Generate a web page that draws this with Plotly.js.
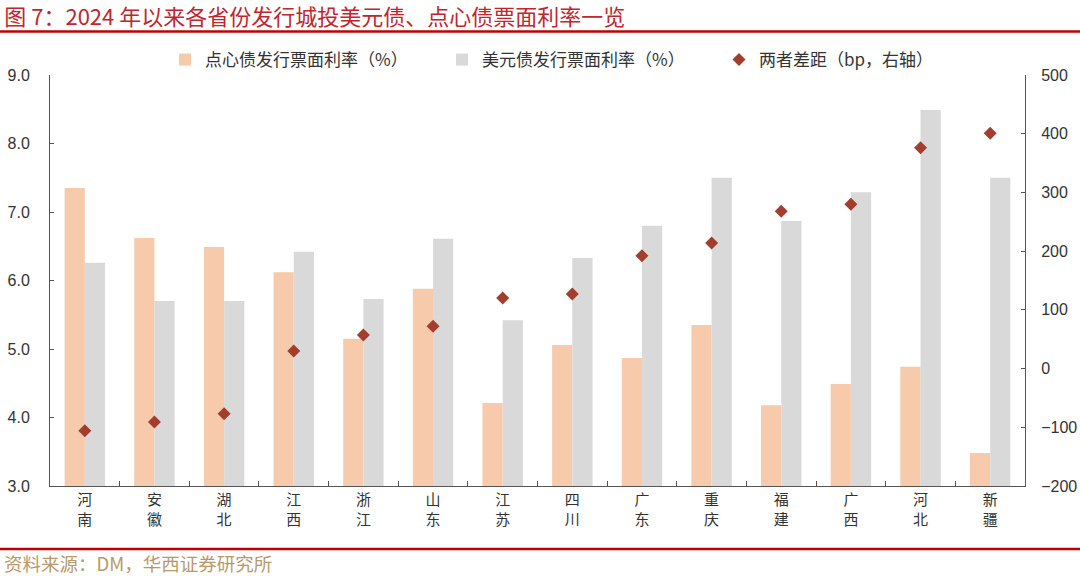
<!DOCTYPE html>
<html>
<head>
<meta charset="utf-8">
<script src="https://cdn.plot.ly/plotly-3.0.1.min.js"></script>
<style>html,body{margin:0;padding:0;background:#fff;}#chart{width:1080px;height:576px;}</style>
</head>
<body>
<div id="chart"></div>
<script>
var provinces = ["河南","安徽","湖北","江西","浙江","山东","江苏","四川","广东","重庆","福建","广西","河北","新疆"];
var dimsumRate = [7.35, 6.62, 6.49, 6.12, 5.15, 5.88, 4.21, 5.06, 4.87, 5.35, 4.18, 4.49, 4.74, 3.48];
var usdRate = [6.26, 5.70, 5.70, 6.42, 5.73, 6.61, 5.42, 6.33, 6.80, 7.50, 6.87, 7.29, 8.49, 7.50];
var spreadBp = [-106, -91, -77, 30, 57, 72, 120, 127, 192, 214, 268, 280, 376, 401];
var leftTicks = [3, 4, 5, 6, 7, 8, 9];
var rightTicks = [-200, -100, 0, 100, 200, 300, 400, 500];

var xLabels = provinces.map(function(p){ return p.split("").join("<br>"); });

var font = "Liberation Sans, Arial, Noto Sans CJK SC, sans-serif";
var cjk = "Noto Sans CJK SC, sans-serif";

var traces = [
  {type:"bar", name:"点心债发行票面利率（%）", x:xLabels, y:dimsumRate, marker:{color:"#F6CAAB"}, yaxis:"y"},
  {type:"bar", name:"美元债发行票面利率（%）", x:xLabels, y:usdRate, marker:{color:"#D9D9D9"}, yaxis:"y"},
  {type:"scatter", mode:"markers", name:"两者差距（bp，右轴）", x:xLabels, y:spreadBp, yaxis:"y2",
   marker:{symbol:"diamond", size:10, color:"#A33E2E"}}
];

var L = 50, R = 55, T = 75, B = 90;
var plotW = 1080 - L - R, plotH = 576 - T - B;
function px2paperX(px){ return (px - L) / plotW; }
function px2paperY(py){ return (576 - B - py) / plotH; }

var layout = {
  width:1080, height:576,
  margin:{l:L, r:R, t:T, b:B, autoexpand:false},
  paper_bgcolor:"#fff", plot_bgcolor:"#fff",
  font:{family:font, color:"#333", size:15},
  barmode:"group", bargap:0.42, bargroupgap:0,
  showlegend:true,
  legend:{orientation:"h", x:px2paperX(165), xanchor:"left", y:px2paperY(60), yanchor:"middle",
    entrywidth:232, entrywidthmode:"pixels", font:{family:cjk, size:17, color:"#333"},
    itemwidth:30, traceorder:"normal", bgcolor:"rgba(0,0,0,0)"},
  title:{text:"图 7：2024 年以来各省份发行城投美元债、点心债票面利率一览",
    font:{family:cjk, size:22, color:"#C0262D"}, x:0.004, xref:"container", xanchor:"left",
    y:1-17/576, yref:"container", yanchor:"middle"},
  xaxis:{type:"category", range:[-0.5, provinces.length - 0.5], tickson:"boundaries", ticks:"inside", ticklen:5, tickcolor:"#555",
    showline:true, linecolor:"#555", linewidth:1, showgrid:false, zeroline:false,
    tickfont:{family:cjk, size:15, color:"#333"}, automargin:false},
  yaxis:{range:[3,9], tickvals:leftTicks, ticktext:leftTicks.map(function(v){return v.toFixed(1);}),
    ticks:"inside", ticklen:4, tickcolor:"#555", showline:true, linecolor:"#555", linewidth:1,
    showgrid:false, zeroline:false, tickfont:{family:font, size:16, color:"#333"}, ticklabelstandoff:16,
    automargin:false},
  yaxis2:{range:[-200,500], tickvals:rightTicks, overlaying:"y", side:"right",
    ticks:"inside", ticklen:4, tickcolor:"#555", showline:true, linecolor:"#555", linewidth:1,
    showgrid:false, zeroline:false, tickfont:{family:font, size:16, color:"#333"}, ticklabelstandoff:12,
    automargin:false},
  shapes:[
    {type:"line", xref:"paper", yref:"paper", x0:px2paperX(0), x1:px2paperX(1080), y0:px2paperY(31.5), y1:px2paperY(31.5),
     line:{color:"#C00000", width:2.5}},
    {type:"line", xref:"paper", yref:"paper", x0:px2paperX(0), x1:px2paperX(1080), y0:px2paperY(549), y1:px2paperY(549),
     line:{color:"#C00000", width:2.5}}
  ],
  annotations:[
    {text:"资料来源：DM，华西证券研究所", xref:"paper", yref:"paper", x:px2paperX(2), xanchor:"left",
     y:px2paperY(563), yanchor:"middle", showarrow:false, font:{family:cjk, size:18.5, color:"#B8996A"}}
  ]
};

Plotly.newPlot("chart", traces, layout, {displayModeBar:false, staticPlot:true});
</script>
</body>
</html>
